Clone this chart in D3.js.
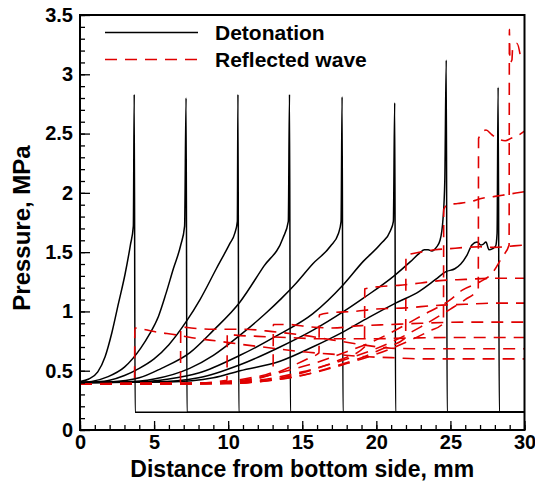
<!DOCTYPE html>
<html><head><meta charset="utf-8">
<script src="https://cdn.jsdelivr.net/npm/d3@7"></script>
<style>body{margin:0;background:#fff}</style>
</head><body><svg id="c" width="535" height="487"></svg>
<script>
// ---------- data ----------
const xTicks = [0,5,10,15,20,25,30];
const xMinor = d3.range(0,31,1);
const yTicks = [0,0.5,1,1.5,2,2.5,3,3.5];
const yMinor = d3.range(0,3.51,0.1);
const yTickLabels = ["0","0.5","1","1.5","2","2.5","3","3.5"];
const legendLabels = ["Detonation","Reflected wave"];
const xTitle = "Distance from bottom side, mm";
const yTitle = "Pressure, MPa";

// detonation profiles [x mm, p MPa]
const det1 = [[0,0.41],[0.6,0.43],[1.2,0.49],[1.7,0.62],[2.15,0.82],[2.6,1.07],[3.05,1.32],[3.4,1.56],[3.6,1.72],[3.66,2.83],[3.72,0.15],[30,0.15]];
const det2 = [[0,0.40],[0.8,0.41],[1.9,0.45],[3.0,0.53],[4.1,0.69],[4.7,0.81],[5.3,0.96],[5.8,1.15],[6.3,1.36],[6.8,1.56],[7.06,1.72],[7.16,2.80],[7.22,0.15],[30,0.15]];
const det3 = [[0,0.40],[1,0.405],[2,0.42],[3,0.46],[4,0.52],[5,0.60],[6,0.72],[7.2,0.92],[8.1,1.10],[9.2,1.36],[10.1,1.57],[10.45,1.66],[10.62,1.76],[10.66,2.83],[10.72,0.15],[30,0.15]];
const det4 = [[0,0.40],[2,0.405],[4,0.44],[5.5,0.52],[7.4,0.65],[9,0.84],[10.8,1.08],[12.4,1.38],[13.7,1.62],[14.06,1.76],[14.14,2.83],[14.2,0.15],[30,0.15]];
const det5 = [[0,0.40],[3,0.405],[5,0.43],[7.4,0.52],[9,0.63],[10.8,0.80],[12.5,0.98],[13.6,1.11],[14.6,1.24],[15.7,1.40],[16.9,1.55],[17.45,1.66],[17.62,1.76],[17.69,2.81],[17.75,0.15],[30,0.15]];
const det6 = [[0,0.40],[4,0.405],[6,0.43],[8,0.48],[10.8,0.63],[13.5,0.81],[15.7,0.98],[17.8,1.23],[19.1,1.42],[20.3,1.57],[20.95,1.68],[21.15,1.76],[21.24,2.76],[21.3,0.15],[30,0.15]];
const det7 = [[0,0.40],[5,0.405],[8,0.44],[10.8,0.55],[13.5,0.70],[15.7,0.84],[17.8,1.0],[19.1,1.11],[21.2,1.30],[22.3,1.42],[22.9,1.49],[23.25,1.52],[23.5,1.52],[23.75,1.51],[24.05,1.54],[24.3,1.60],[24.5,1.78],[24.62,2.1],[24.72,3.12],[24.78,0.15],[30,0.15]];
const det8 = [[0,0.40],[6,0.405],[9,0.44],[10.8,0.50],[13.5,0.58],[15.7,0.70],[17.8,0.83],[19.5,0.95],[21.3,1.07],[22.9,1.17],[24.0,1.27],[24.7,1.335],[25.3,1.36],[25.7,1.40],[26.1,1.47],[26.45,1.56],[26.8,1.585],[27.05,1.56],[27.2,1.565],[27.4,1.585],[27.6,1.52],[27.85,1.53],[28.05,1.55],[28.15,1.66],[28.22,2.89],[28.3,0.15],[30,0.15]];

// reflected wave profiles
const refl1 = [[0,0.39],[8,0.395],[11,0.42],[14,0.50],[16,0.57],[18,0.66],[20,0.76],[22,0.89],[23,0.96],[25,1.10],[25.8,1.18],[27,1.25],[27.8,1.32],[28.5,1.46],[28.96,1.56],[28.98,3.38],[29.02,3.10],[29.15,3.12],[29.2,3.22],[29.5,3.26],[29.7,3.17]];
const refl2 = [[0,0.39],[9,0.395],[12,0.42],[15,0.49],[17,0.56],[19,0.64],[21,0.74],[23,0.87],[25,1.02],[26,1.10],[26.88,1.19],[26.9,2.46],[27.4,2.53],[27.8,2.49],[28.3,2.45],[28.7,2.44],[29.1,2.46],[29.5,2.48],[30,2.52]];
const refl3 = [[0,0.39],[10,0.395],[13,0.42],[16,0.49],[18,0.56],[20,0.64],[22,0.74],[23.5,0.83],[24.53,0.90],[24.55,1.86],[24.8,1.90],[25.5,1.91],[26.5,1.93],[27,1.95],[28,1.97],[29,1.99],[30,2.01]];
const refl4 = [[0,0.39],[10,0.395],[13,0.42],[15,0.46],[17,0.53],[19,0.61],[20.5,0.69],[21.98,0.78],[22.0,1.47],[23,1.50],[24,1.52],[25,1.53],[26,1.54],[27,1.545],[28,1.54],[29,1.55],[30,1.56]];
const refl5 = [[0,0.39],[10,0.39],[12,0.41],[14,0.45],[16,0.52],[17.5,0.59],[19.2,0.70],[19.22,1.19],[20.3,1.21],[21.5,1.22],[23,1.24],[24.3,1.26],[26,1.27],[28,1.28],[30,1.28]];
const refl6 = [[0,0.39],[9,0.39],[11,0.41],[13,0.47],[14.5,0.55],[15.5,0.61],[16.13,0.65],[16.15,0.97],[17,0.99],[18.5,1.00],[20,1.02],[22,1.03],[24,1.05],[26,1.06],[28,1.07],[30,1.07]];
const refl7 = [[0,0.39],[8,0.39],[10,0.41],[11.5,0.44],[13.03,0.49],[13.05,0.89],[14,0.89],[15.5,0.87],[17,0.86],[19,0.88],[21,0.89],[23,0.90],[26,0.91],[30,0.91]];
const refl8 = [[0,0.39],[7,0.39],[9.92,0.42],[9.94,0.81],[10.5,0.80],[12,0.79],[14,0.78],[16,0.77],[18,0.77],[20,0.77],[22,0.775],[25,0.78],[30,0.78]];
const refl9 = [[0,0.39],[6.78,0.40],[6.8,0.87],[7.5,0.86],[9,0.85],[11,0.85],[13,0.83],[15,0.80],[17,0.76],[19,0.72],[21,0.69],[23,0.685],[25,0.685],[30,0.685]];
const refl10 = [[0,0.39],[3.68,0.39],[3.7,0.86],[5,0.83],[6.6,0.80],[8,0.77],[9.3,0.75],[11,0.72],[13,0.69],[15,0.66],[17,0.64],[19,0.62],[21,0.61],[23,0.60],[30,0.60]];

const detonation = [det1,det2,det3,det4,det5,det6,det7,det8];
const reflected = [refl1,refl2,refl3,refl4,refl5,refl6,refl7,refl8,refl9,refl10];

// ---------- drawing ----------
const svg = d3.select("#c");
const FONT = "'Liberation Sans', Arial, sans-serif";
const L=80, R=524.5, T=15, B=430;
const x = d3.scaleLinear().domain([0,30]).range([L,R]);
const y = d3.scaleLinear().domain([0,3.5]).range([B,T]);
const RED = "#e00000";

svg.append("defs").append("clipPath").attr("id","clip")
  .append("rect").attr("x",L).attr("y",T).attr("width",R-L).attr("height",B-T);

const line = d3.line().x(d=>x(d[0])).y(d=>y(d[1])).curve(d3.curveMonotoneX);

const gPlot = svg.append("g").attr("clip-path","url(#clip)");
gPlot.selectAll("path.det").data(detonation).join("path")
  .attr("class","det").attr("d",line).attr("fill","none")
  .attr("stroke","#000").attr("stroke-width",1.5);
gPlot.selectAll("path.refl").data(reflected).join("path")
  .attr("class","refl").attr("d",line).attr("fill","none")
  .attr("stroke",RED).attr("stroke-width",1.6).attr("stroke-dasharray","12,8");

// axes
const gx = svg.append("g").attr("transform",`translate(0,${B})`);
gx.call(d3.axisBottom(x).tickValues(xMinor).tickSize(-5).tickFormat(""));
gx.append("g").call(d3.axisBottom(x).tickValues(xTicks).tickSizeInner(-9).tickSizeOuter(0).tickPadding(5).tickFormat(d3.format("d")));
const gy = svg.append("g").attr("transform",`translate(${L},0)`);
gy.call(d3.axisLeft(y).tickValues(yMinor).tickSize(-5).tickFormat(""));
gy.append("g").call(d3.axisLeft(y).tickValues(yTicks).tickSizeInner(-10).tickSizeOuter(0).tickPadding(7).tickFormat((d,i)=>yTickLabels[i]));
svg.selectAll(".domain").remove();
svg.selectAll(".tick line").attr("stroke","#000").attr("stroke-width",1.3);
svg.selectAll(".tick text").attr("font-family",FONT).attr("font-weight","bold").attr("font-size",20).attr("fill","#000");

svg.append("rect").attr("x",L).attr("y",T).attr("width",R-L).attr("height",B-T)
  .attr("fill","none").attr("stroke","#000").attr("stroke-width",2);

// titles
svg.append("text").attr("x",(L+R)/2).attr("y",477).attr("text-anchor","middle")
  .attr("font-family",FONT).attr("font-weight","bold").attr("font-size",23).text(xTitle);
svg.append("text").attr("transform","translate(30,228) rotate(-90)").attr("text-anchor","middle")
  .attr("font-family",FONT).attr("font-weight","bold").attr("font-size",24).text(yTitle);

// legend
const leg = svg.append("g");
leg.append("line").attr("x1",105).attr("x2",198).attr("y1",32.5).attr("y2",32.5).attr("stroke","#000").attr("stroke-width",1.5);
leg.append("line").attr("x1",105).attr("x2",198).attr("y1",59.5).attr("y2",59.5).attr("stroke",RED).attr("stroke-width",1.6).attr("stroke-dasharray","12,8");
leg.selectAll("text").data(legendLabels).join("text")
  .attr("x",215).attr("y",(d,i)=>40+i*26.5)
  .attr("font-family",FONT).attr("font-weight","bold").attr("font-size",21).text(d=>d);
</script></body></html>
